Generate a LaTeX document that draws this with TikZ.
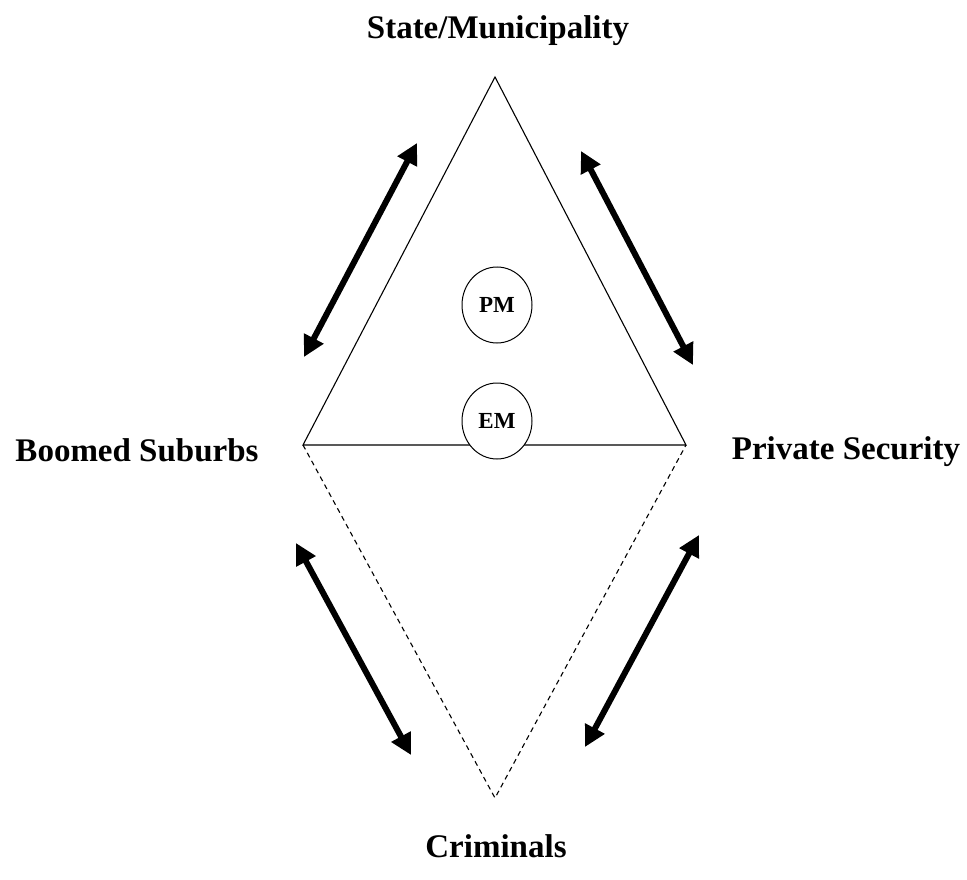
\documentclass[tikz,border=0pt]{standalone}
\usepackage{fontspec}
\setmainfont{Liberation Serif}
\usetikzlibrary{arrows.meta,shapes.geometric}

\begin{document}
\begin{tikzpicture}[x=1pt,y=-1pt]
	\tikzstyle{side}=[line width=1.1pt]
	\tikzstyle{hidden}=[line width=1.1pt,dash pattern=on 5pt off 4pt]
	\tikzstyle{actor}=[font=\bfseries\fontsize{33}{38}\selectfont,inner sep=0pt]
	\tikzstyle{group}=[draw,ellipse,line width=1pt,fill=white,minimum width=70pt,minimum height=76pt,inner sep=0pt,font=\bfseries\fontsize{23}{27}\selectfont]
	\tikzstyle{link}=[line width=6pt,{Triangle[length=21pt,width=21pt]}-{Triangle[length=21pt,width=21pt]}]
	\useasboundingbox (0,0) rectangle (967,880);
	% corners of the diamond
	\coordinate (top) at (495,77);
	\coordinate (left) at (303,445);
	\coordinate (right) at (686,445);
	\coordinate (bottom) at (495,798);
	\draw [hidden] (left) -- (bottom) -- (right);
	\draw [side,line join=miter] (left) -- (top) -- (right) -- cycle;
	\node (pm) at (497,305) [group] {PM};
	\node (em) at (497,421) [group] {EM};
	% labels
	\node (state) at (498,31) [actor] {State/Municipality};
	\node (suburbs) at (137,450) [actor] {Boomed Suburbs};
	\node (security) at (846,452) [actor] {Private Security};
	\node (criminals) at (496,846) [actor] {Criminals};
	% relations
	\coordinate (ul1) at (304,357);
	\coordinate (ul2) at (417,143);
	\coordinate (ur1) at (581,151);
	\coordinate (ur2) at (693,365);
	\coordinate (ll1) at (296,543);
	\coordinate (ll2) at (411,755);
	\coordinate (lr1) at (585,747);
	\coordinate (lr2) at (699,535);
	\draw [link] (ul1) -- (ul2);
	\draw [link] (ur1) -- (ur2);
	\draw [link] (ll1) -- (ll2);
	\draw [link] (lr1) -- (lr2);
\end{tikzpicture}
\end{document}
